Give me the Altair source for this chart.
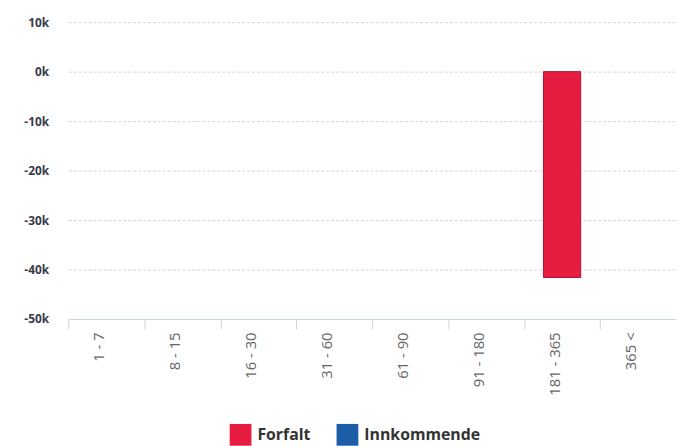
import altair as alt
import pandas as pd

categories = ["1 - 7", "8 - 15", "16 - 30", "31 - 60", "61 - 90", "91 - 180", "181 - 365", "365 <"]
forfalt = [0, 0, 0, 0, 0, 0, -41600, 0]
innkommende = [0, 0, 0, 0, 0, 0, 0, 0]
series = ["Forfalt", "Innkommende"]
colors = ["#e61c40", "#1c5da8"]
y_ticks = [10000, 0, -10000, -20000, -30000, -40000, -50000]

rows = []
for c, f, i in zip(categories, forfalt, innkommende):
    rows.append({"cat": c, "series": "Forfalt", "value": f})
    rows.append({"cat": c, "series": "Innkommende", "value": i})
df = pd.DataFrame(rows)

FONT = "Open Sans"

chart = alt.Chart(df).transform_filter("datum.value != 0").mark_bar(
    width={"band": 0.49}, stroke="#b8102e", strokeWidth=1
).encode(
    x=alt.X("cat:N", sort=categories, title=None,
            scale=alt.Scale(domain=categories, paddingInner=0, paddingOuter=0),
            axis=alt.Axis(labelAngle=270, tickBand="extent", tickSize=10,
                          tickColor="#c6d4e4", domainColor="#c6d4e4",
                          labelColor="#666666", labelFontSize=15,
                          labelBaseline="bottom",
                          labelPadding=3, grid=False, labelFont=FONT)),
    y=alt.Y("value:Q", title=None,
            scale=alt.Scale(domain=[-50000, 10000], nice=False),
            axis=alt.Axis(values=y_ticks, labelExpr="(datum.value/1000) + 'k'",
                          domain=False, ticks=False, labelPadding=20,
                          labelFontSize=12, labelFontWeight="bold",
                          labelColor="#3a3a4a", labelFont=FONT,
                          grid=True, gridColor="#d4d4d4", gridDash=[3, 2])),
    y2=alt.datum(0),
    color=alt.Color("series:N",
                    scale=alt.Scale(domain=series, range=colors),
                    legend=alt.Legend(title=None, orient="none", direction="horizontal",
                                      legendX=163, legendY=406,
                                      symbolType="square", symbolSize=484,
                                      symbolStrokeWidth=0, labelFontSize=16,
                                      labelFontWeight="bold", labelColor="#333333",
                                      labelFont=FONT, columnPadding=26,
                                      labelOffset=6, padding=0)),
).properties(
    width=614, height=300,
    background="white",
    autosize=alt.AutoSizeParams(type="none"),
    padding={"left": 61, "top": 12, "right": 0, "bottom": 126},
).configure_view(stroke="transparent", strokeWidth=0)

chart.save("out.html", embed_options={"renderer": "svg", "actions": False})
